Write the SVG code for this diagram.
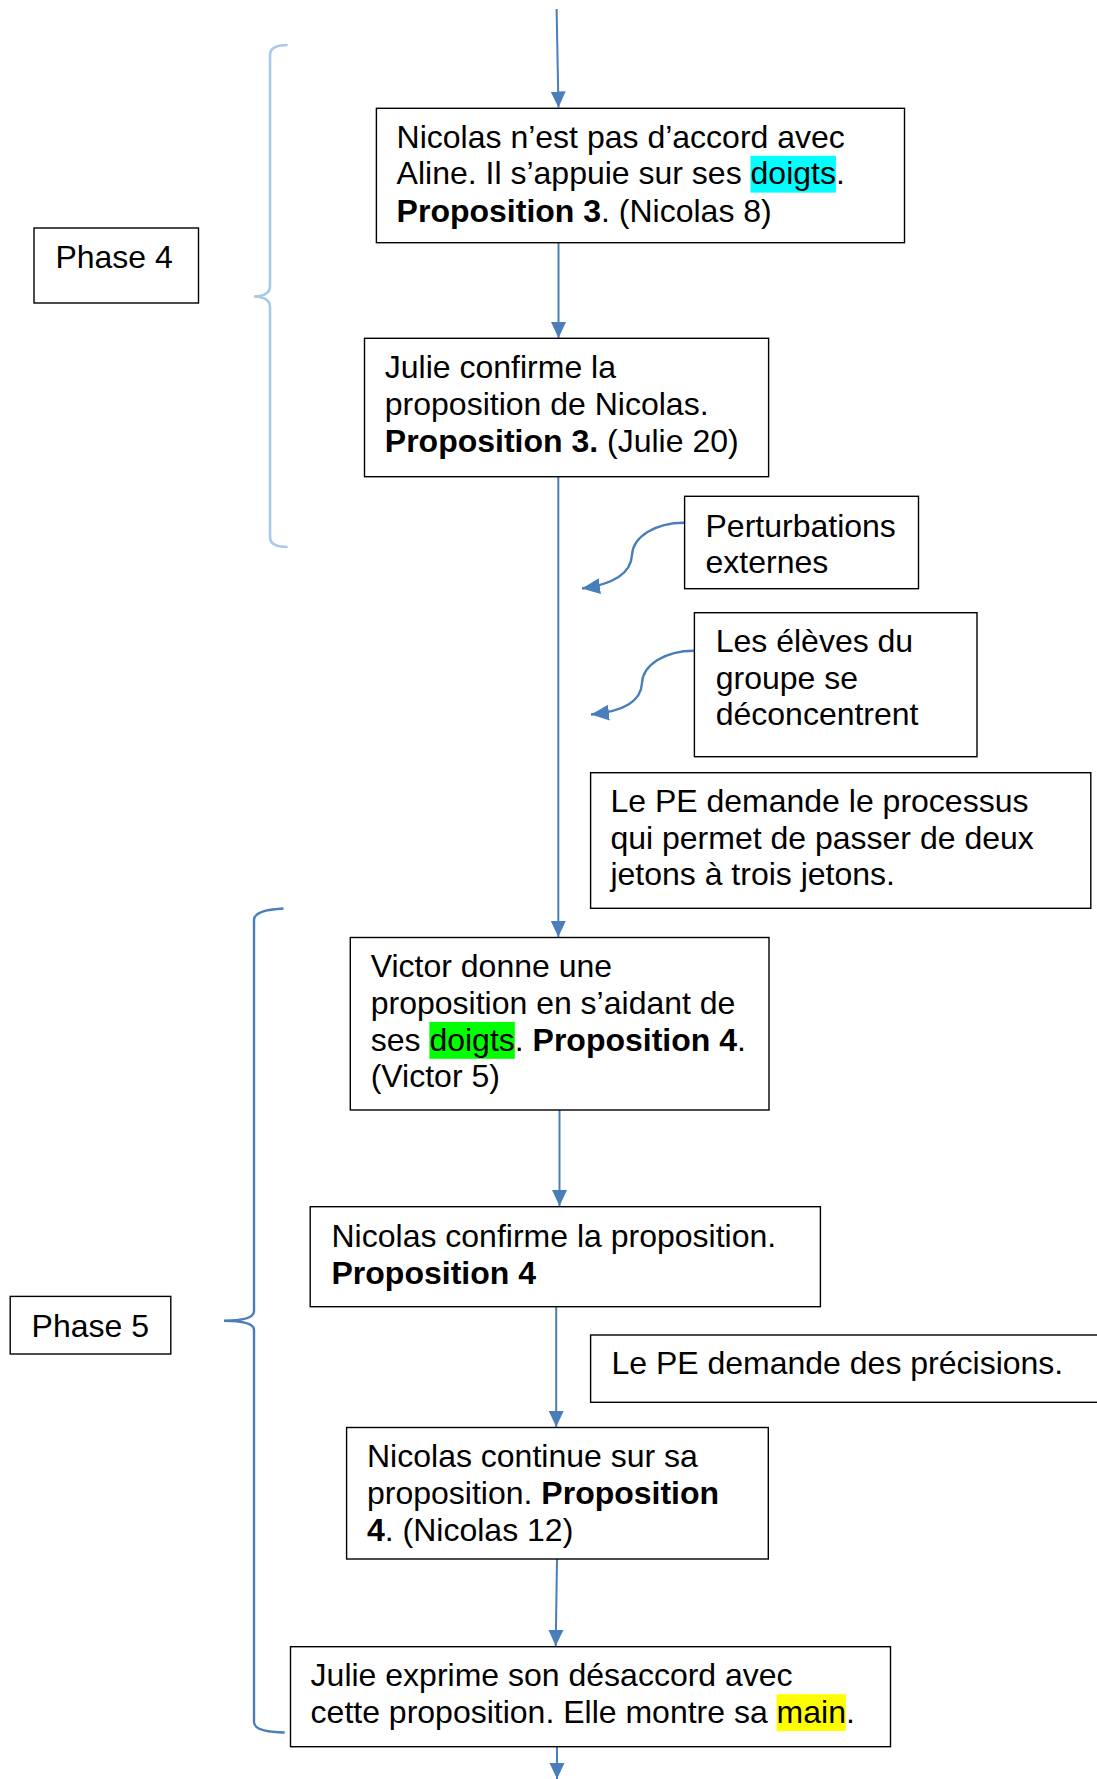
<svg xmlns="http://www.w3.org/2000/svg" width="1097" height="1779" viewBox="0 0 1097 1779">
<defs>
<marker id="ah" markerUnits="userSpaceOnUse" markerWidth="18" markerHeight="18" viewBox="0 0 18 18" refX="16" refY="9" orient="auto">
<path d="M0,1.5 L16,9 L0,16.5 Z" fill="#4A7EBB"/>
</marker>
<marker id="ah2" markerUnits="userSpaceOnUse" markerWidth="20" markerHeight="20" viewBox="0 0 20 20" refX="18" refY="10" orient="auto">
<path d="M0,2 L18,10 L0,18 Z" fill="#4A7EBB"/>
</marker>
<style>
.box{fill:#fff;stroke:#000;stroke-width:1.4}
.t{font-family:"Liberation Sans",Arial,sans-serif;font-size:32px;fill:#000}
.b{font-weight:bold}
.con{fill:none;stroke:#4A7EBB;stroke-width:2}
.cur{fill:none;stroke:#4A7EBB;stroke-width:2.4}
</style>
</defs>
<rect width="1097" height="1779" fill="#fff"/>

<g id="braces" fill="none">
<path d="M287.6,45 Q270,45 270,55 L270,286 Q270,296 254,296.5 Q270,297 270,307 L270,537 Q270,547 287.6,547" stroke="#A9C9EA" stroke-width="2.6"/>
<path d="M283.5,908.5 Q254,910 254,920 L254,1311 Q254,1320.7 224,1320.7 Q254,1320.7 254,1330 L254,1722 Q254,1732 284.7,1732.5" stroke="#4A7EBB" stroke-width="2.4"/>
</g>

<g id="connectors">
<path class="con" d="M556.6,9 L558.5,107.5" marker-end="url(#ah)"/>
<path class="con" d="M558.5,243 L558.5,338" marker-end="url(#ah)"/>
<path class="con" d="M558.3,477 L558.3,937" marker-end="url(#ah)"/>
<path class="con" d="M559.5,1110 L559.5,1206" marker-end="url(#ah)"/>
<path class="con" d="M556.2,1307 L556.2,1427" marker-end="url(#ah)"/>
<path class="con" d="M557,1559 L555.7,1646" marker-end="url(#ah)"/>
<path class="con" d="M557,1747 L557,1779" marker-end="url(#ah)"/>
<path class="cur" d="M684,522.7 C655,522.7 633,537 632,555 C631,573 615,584 582,588.5" marker-end="url(#ah2)"/>
<path class="cur" d="M694,650.7 C665,650.7 643,665 642,683 C641,701 625,711 591,714.5" marker-end="url(#ah2)"/>
</g>

<g id="phase4">
<rect class="box" x="34" y="228" width="164.5" height="75"/>
<text class="t" x="55.4" y="268">Phase 4</text>
</g>

<g id="n1">
<rect class="box" x="376.4" y="108.3" width="528.1" height="134.4"/>
<rect x="750.5" y="155.8" width="85.4" height="36.8" fill="#00FFFF"/>
<text class="t" x="396.6" y="147.5">Nicolas n’est pas d’accord avec</text>
<text class="t" x="396.6" y="184.3">Aline. Il s’appuie sur ses doigts.</text>
<text class="t" x="396.6" y="221.5"><tspan class="b">Proposition 3</tspan>. (Nicolas 8)</text>
</g>

<g id="n2">
<rect class="box" x="364.5" y="338.3" width="404.1" height="138.4"/>
<text class="t" x="384.8" y="378.3">Julie confirme la</text>
<text class="t" x="384.8" y="415.1">proposition de Nicolas.</text>
<text class="t" x="384.8" y="451.9"><tspan class="b">Proposition 3.</tspan> (Julie 20)</text>
</g>

<g id="n3">
<rect class="box" x="684.6" y="496.3" width="233.9" height="92.4"/>
<text class="t" x="705.5" y="536.5">Perturbations</text>
<text class="t" x="705.5" y="572.5">externes</text>
</g>

<g id="n4">
<rect class="box" x="694.4" y="612.7" width="282.6" height="144"/>
<text class="t" x="715.7" y="651.7">Les élèves du</text>
<text class="t" x="715.7" y="688.5">groupe se</text>
<text class="t" x="715.7" y="725.3">déconcentrent</text>
</g>

<g id="n5">
<rect class="box" x="590.6" y="772.7" width="500.2" height="135.6"/>
<text class="t" x="610.4" y="811.7">Le PE demande le processus</text>
<text class="t" x="610.4" y="848.5">qui permet de passer de deux</text>
<text class="t" x="610.4" y="885.3">jetons à trois jetons.</text>
</g>

<g id="phase5">
<rect class="box" x="10.2" y="1296.4" width="160.6" height="57.6"/>
<text class="t" x="31.6" y="1337">Phase 5</text>
</g>

<g id="n6">
<rect class="box" x="350.3" y="937.5" width="418.7" height="172.5"/>
<rect x="429.4" y="1022" width="85.4" height="36.8" fill="#00FF00"/>
<text class="t" x="370.7" y="977">Victor donne une</text>
<text class="t" x="370.7" y="1013.8">proposition en s’aidant de</text>
<text class="t" x="370.7" y="1050.6">ses doigts. <tspan class="b">Proposition 4</tspan>.</text>
<text class="t" x="370.7" y="1087.4">(Victor 5)</text>
</g>

<g id="n7">
<rect class="box" x="310.2" y="1206.7" width="510.2" height="100"/>
<text class="t" x="331.5" y="1246.7">Nicolas confirme la proposition.</text>
<text class="t b" x="331.5" y="1284">Proposition 4</text>
</g>

<g id="n8">
<rect class="box" x="590.6" y="1335" width="520" height="67.3"/>
<text class="t" x="611.4" y="1374">Le PE demande des précisions.</text>
</g>

<g id="n9">
<rect class="box" x="346.6" y="1427.5" width="421.7" height="131.5"/>
<text class="t" x="367" y="1467.3">Nicolas continue sur sa</text>
<text class="t" x="367" y="1504.1">proposition. <tspan class="b">Proposition</tspan></text>
<text class="t" x="367" y="1540.9"><tspan class="b">4</tspan>. (Nicolas 12)</text>
</g>

<g id="n10">
<rect class="box" x="290.5" y="1646.7" width="600" height="100"/>
<rect x="776.6" y="1694.2" width="69.3" height="36.8" fill="#FFFF00"/>
<text class="t" x="310.6" y="1686">Julie exprime son désaccord avec</text>
<text class="t" x="310.6" y="1722.7">cette proposition. Elle montre sa main.</text>
</g>
</svg>
